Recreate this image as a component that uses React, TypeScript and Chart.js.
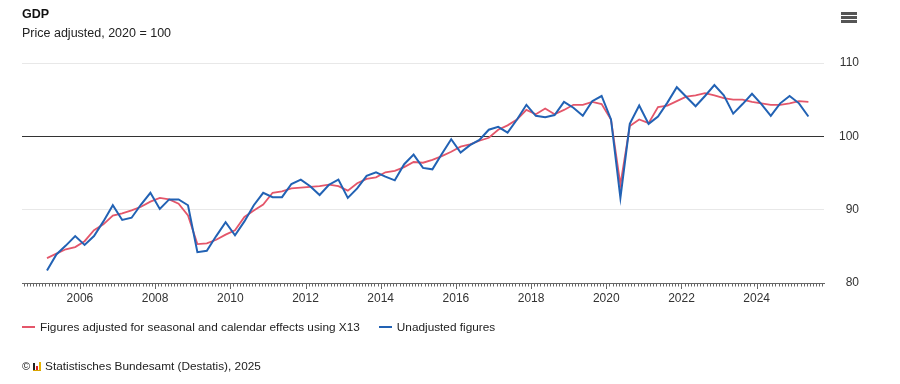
import React, { useEffect, useRef } from "react";
import { Chart, registerables } from "chart.js";

Chart.register(...registerables);

// ---- data ----
const QUARTERS: string[] = [];
for (let y = 2005; y <= 2025; y++) {
  for (let q = 1; q <= 4; q++) {
    if (y === 2025 && q > 2) break;
    QUARTERS.push(`${y} Q${q}`);
  }
}

const ADJUSTED = [
  83.4, 84.0, 84.6, 84.9, 85.7, 87.2, 88.0, 89.2, 89.5, 89.9,
  90.4, 91.1, 91.6, 91.4, 90.8, 89.2, 85.3, 85.4, 85.9, 86.6,
  87.2, 89.0, 89.9, 90.7, 92.3, 92.5, 92.9, 93.0, 93.1, 93.2,
  93.4, 93.2, 92.6, 93.6, 94.2, 94.4, 95.1, 95.3, 95.8, 96.5,
  96.4, 96.8, 97.3, 97.9, 98.6, 98.9, 99.4, 99.8, 100.9, 101.5,
  102.3, 103.6, 103.0, 103.8, 103.0, 103.6, 104.3, 104.3, 104.7, 104.4,
  102.3, 93.4, 101.4, 102.3, 101.8, 104.0, 104.2, 104.8, 105.4, 105.6,
  105.9, 105.6, 105.2, 105.0, 105.0, 104.7, 104.5, 104.3, 104.3, 104.5,
  104.8, 104.7,
];

const UNADJUSTED = [
  81.7, 83.9, 85.1, 86.4, 85.2, 86.4, 88.4, 90.6, 88.6, 88.9,
  90.7, 92.3, 90.1, 91.4, 91.4, 90.6, 84.2, 84.4, 86.4, 88.3,
  86.5, 88.4, 90.6, 92.3, 91.7, 91.7, 93.5, 94.1, 93.2, 92.0,
  93.4, 94.1, 91.6, 92.9, 94.6, 95.1, 94.5, 94.0, 96.2, 97.5,
  95.7, 95.5, 97.6, 99.6, 97.8, 98.8, 99.5, 100.9, 101.3, 100.5,
  102.3, 104.3, 102.8, 102.6, 102.9, 104.7, 103.9, 102.8, 104.8, 105.5,
  102.3, 91.6, 101.7, 104.2, 101.7, 102.7, 104.6, 106.7, 105.4, 104.1,
  105.5, 107.0, 105.6, 103.1, 104.4, 105.8, 104.4, 102.8, 104.5, 105.5,
  104.5, 102.7,
];

const YEAR_TICKS = [2006, 2008, 2010, 2012, 2014, 2016, 2018, 2020, 2022, 2024];
const Y_TICKS = [80, 90, 100, 110];

const SERIES_NAMES = [
  "Figures adjusted for seasonal and calendar effects using X13",
  "Unadjusted figures",
];
const RED = "#e4566a";
const BLUE = "#2262b4";
const FONT = "'Liberation Sans', Arial, sans-serif";

function toPoints(values: number[]) {
  return QUARTERS.map((lab, i) => {
    const [ys, qs] = lab.split(" Q");
    return { x: Number(ys) + (Number(qs) - 0.5) / 4, y: values[i] };
  });
}

const minorTicks = {
  id: "minorTicks",
  afterDraw(chart: any) {
    const s = chart.scales.x;
    const ctx = chart.ctx;
    const y0 = s.top;
    ctx.save();
    ctx.strokeStyle = "#666";
    ctx.lineWidth = 1;
    for (let m = Math.ceil(s.min * 12); m <= Math.floor(s.max * 12); m++) {
      const px = Math.round(s.getPixelForValue(m / 12)) + 0.5;
      const major = m % 24 === 0;
      ctx.beginPath();
      ctx.moveTo(px, y0);
      ctx.lineTo(px, y0 + (major ? 6 : 3.5));
      ctx.stroke();
    }
    ctx.restore();
  },
};

export default function App() {
  const ref = useRef<HTMLCanvasElement | null>(null);

  useEffect(() => {
    if (!ref.current) return;
    const chart = new Chart(ref.current, {
      type: "line",
      data: {
        datasets: [
          {
            label: SERIES_NAMES[0],
            data: toPoints(ADJUSTED),
            borderColor: RED,
            backgroundColor: RED,
            borderWidth: 1.8,
            pointRadius: 0,
            tension: 0,
            order: 1,
          },
          {
            label: SERIES_NAMES[1],
            data: toPoints(UNADJUSTED),
            borderColor: BLUE,
            backgroundColor: BLUE,
            borderWidth: 2,
            pointRadius: 0,
            tension: 0,
            order: 0,
          },
        ],
      },
      options: {
        animation: false,
        responsive: false,
        maintainAspectRatio: false,
        layout: { padding: { left: 22, right: 41, top: 63, bottom: 71 } },
        plugins: {
          legend: { display: false },
          title: { display: false },
          tooltip: { enabled: false },
        },
        scales: {
          x: {
            type: "linear",
            min: 2004.46,
            max: 2025.79,
            afterBuildTicks: (s: any) => {
              s.ticks = YEAR_TICKS.map((v) => ({ value: v }));
            },
            afterFit: (s: any) => {
              s.height = 30;
            },
            ticks: {
              callback: (v: any) => String(v),
              autoSkip: false,
              maxRotation: 0,
              padding: 8,
              color: "#333",
              font: { family: FONT, size: 12 },
            },
            grid: { display: true, drawOnChartArea: false, drawTicks: false },
            border: { display: true, color: "#666", width: 1 },
          },
          y: {
            position: "right",
            min: 80,
            max: 110,
            afterBuildTicks: (s: any) => {
              s.ticks = Y_TICKS.map((v) => ({ value: v }));
            },
            afterFit: (s: any) => {
              s.width = 35;
            },
            ticks: {
              padding: 15,
              crossAlign: "far",
              color: "#333",
              font: { family: FONT, size: 12 },
            },
            grid: {
              drawTicks: false,
              color: (c: any) =>
                c.tick && c.tick.value === 100
                  ? "#333"
                  : c.tick && c.tick.value === 80
                  ? "rgba(0,0,0,0)"
                  : "#e8e8e8",
              lineWidth: 1,
            },
            border: { display: false },
          },
        },
      },
      plugins: [minorTicks],
    });
    return () => chart.destroy();
  }, []);

  const text: React.CSSProperties = {
    position: "absolute",
    fontFamily: FONT,
    color: "#222",
    whiteSpace: "nowrap",
  };

  return (
    <div
      style={{
        position: "absolute",
        left: 0,
        top: 0,
        width: 900,
        height: 384,
        background: "#fff",
        overflow: "hidden",
      }}
    >
      <canvas
        ref={ref}
        width={900}
        height={384}
        style={{ position: "absolute", left: 0, top: 0, width: 900, height: 384 }}
      />
      <div style={{ ...text, left: 22, top: 6.5, fontSize: 12.5, lineHeight: "15px", fontWeight: "bold", color: "#111" }}>
        GDP
      </div>
      <div style={{ ...text, left: 22, top: 26, fontSize: 12.5, lineHeight: "15px" }}>
        Price adjusted, 2020 = 100
      </div>
      {/* menu icon */}
      <div style={{ position: "absolute", left: 841, top: 12, width: 16 }}>
        {[0, 1, 2].map((i) => (
          <div key={i} style={{ height: 2.5, background: "#555", marginBottom: i < 2 ? 1.5 : 0 }} />
        ))}
      </div>
      {/* legend */}
      <div style={{ ...text, left: 22, top: 320, fontSize: 11.8, lineHeight: "14px", display: "flex", alignItems: "center" }}>
        <span style={{ display: "inline-block", width: 13, height: 2, background: RED, marginRight: 5 }} />
        <span>{SERIES_NAMES[0]}</span>
        <span style={{ display: "inline-block", width: 13, height: 2, background: BLUE, marginLeft: 19, marginRight: 5 }} />
        <span>{SERIES_NAMES[1]}</span>
      </div>
      {/* footer */}
      <div style={{ ...text, left: 22, top: 359, fontSize: 11.8, lineHeight: "14px", display: "flex", alignItems: "center" }}>
        <span style={{ fontSize: 11 }}>©</span>
        <span style={{ display: "inline-flex", alignItems: "flex-end", height: 9, marginLeft: 3, marginRight: 4, borderBottom: "1px solid #d9a400" }}>
          <span style={{ width: 2, height: 7, background: "#222", marginRight: 1 }} />
          <span style={{ width: 2, height: 4, background: "#d22", marginRight: 1 }} />
          <span style={{ width: 2, height: 8, background: "#e8b400" }} />
        </span>
        <span>Statistisches Bundesamt (Destatis), 2025</span>
      </div>
    </div>
  );
}
